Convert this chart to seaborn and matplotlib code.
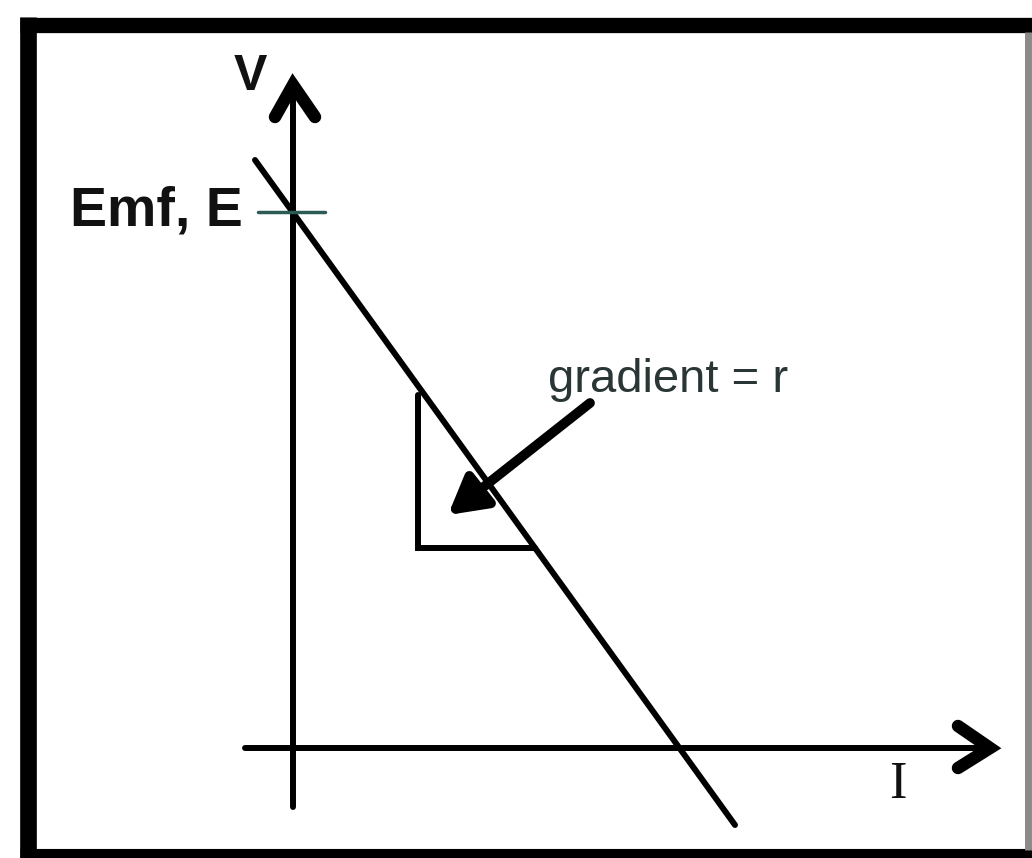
import numpy as np
import pandas as pd
import seaborn as sns
import matplotlib.pyplot as plt
from matplotlib.lines import Line2D

# diagram data (origin at axes crossing, units ~ 100 px)
line_x = [-0.38, 4.42]
line_y = [5.88, -0.77]
emf_E = 5.36
tick_x = [-0.35, 0.32]
tri_x = [1.25, 1.25, 2.42]
tri_y = [3.53, 2.00, 2.00]
arrow_start = (2.97, 3.45)
arrow_end = (1.55, 2.33)
vaxis_y = [-0.59, 6.63]
haxis_x = [-0.48, 6.97]
vhead_x = [-0.18, 0.0, 0.22]
vhead_y = [6.31, 6.63, 6.31]
hhead_x = [6.65, 6.97, 6.65]
hhead_y = [0.22, 0.0, -0.20]

sns.set_theme(style='white')
plt.rcParams['font.family'] = ['Liberation Sans', 'DejaVu Sans']

fig = plt.figure(figsize=(10.32, 8.58), dpi=100)
ax = fig.add_axes([0, 0, 1, 1])
ax.set_xlim(-2.93, 7.39)
ax.set_ylim(-1.10, 7.48)
ax.axis('off')

lw = 4.3
# axes
sns.lineplot(x=[0, 0], y=vaxis_y, ax=ax, color='black', lw=lw, sort=False, estimator=None)
sns.lineplot(x=haxis_x, y=[0, 0], ax=ax, color='black', lw=lw, sort=False, estimator=None)
ax.plot(vhead_x, vhead_y, color='black', lw=9, solid_capstyle='round', solid_joinstyle='miter')
ax.plot(hhead_x, hhead_y, color='black', lw=9, solid_capstyle='round', solid_joinstyle='miter')

# V-I line
df = pd.DataFrame({'I': line_x, 'V': line_y})
sns.lineplot(data=df, x='I', y='V', ax=ax, color='black', lw=lw, sort=False, estimator=None)

# emf tick
ax.plot(tick_x, [emf_E, emf_E], color='#2c5a55', lw=2.5)

# gradient triangle
ax.plot(tri_x, tri_y, color='black', lw=lw, solid_joinstyle='miter')

# arrow
ax.annotate('', xy=arrow_end, xytext=arrow_start,
            arrowprops=dict(arrowstyle='-|>,head_length=0.8,head_width=0.45', lw=7,
                            color='black', mutation_scale=28, shrinkA=0, shrinkB=0))

# labels
ax.text(-0.43, 6.71, 'V', fontsize=36, fontweight='bold', ha='center', va='center', color='#111111')
ax.text(-0.50, emf_E, 'Emf, E', fontsize=40, fontweight='bold', ha='right', va='center', color='#111111')
ax.text(2.55, 3.68, 'gradient = r', fontsize=34, ha='left', va='center', color='#2a3535')
ax.text(6.05, -0.37, 'I', fontsize=38, ha='center', va='center', color='#111111',
        family=['Liberation Serif', 'DejaVu Serif'])

# frame
W, H = 1032, 858
def fline(xs, ys, **kw):
    fig.add_artist(Line2D([x / W for x in xs], [1 - y / H for y in ys],
                          transform=fig.transFigure, solid_capstyle='butt', **kw))
fline([28, 28], [17, 858], color='black', lw=12)
fline([20, 1032], [25, 25], color='black', lw=11)
fline([20, 1032], [854, 854], color='black', lw=8)
fline([1028, 1028], [32, 850], color='#8a8a8a', lw=5)

fig.savefig('out.png', dpi=100)
